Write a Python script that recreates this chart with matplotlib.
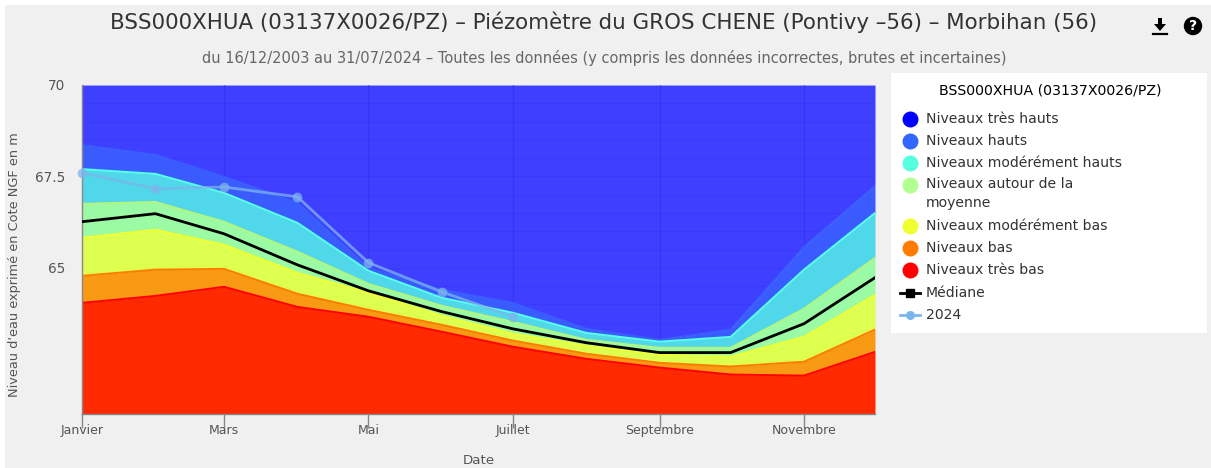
import matplotlib
matplotlib.use("Agg")
import matplotlib.pyplot as plt
from matplotlib.patches import Rectangle, Circle, Polygon

W, H = 1211, 468

# position of the first day of each month, in days since 1 January
month_pos = [0, 31, 60, 91, 121, 152, 182, 213, 244, 274, 305, 335]
tick_pos = [0, 60, 121, 182, 244, 305]
tick_labels = ["Janvier", "Mars", "Mai", "Juillet", "Septembre", "Novembre"]
y_ticks = [65, 67.5, 70]
y_tick_labels = ["65", "67.5", "70"]

# upper limit of each band
hauts = [68.36, 68.09, 67.49, 66.78, 65.00, 64.40, 64.04, 63.33, 63.03, 63.31, 65.57, 67.24]
mod_hauts = [67.70, 67.57, 67.05, 66.23, 64.92, 64.18, 63.77, 63.22, 62.98, 63.11, 64.95, 66.50]
moyenne = [66.75, 66.80, 66.26, 65.44, 64.56, 63.96, 63.52, 63.03, 62.81, 62.81, 63.88, 65.27]
mod_bas = [65.82, 66.04, 65.63, 64.86, 64.32, 63.69, 63.20, 62.87, 62.62, 62.57, 63.11, 64.26]
bas = [64.78, 64.95, 64.97, 64.29, 63.85, 63.44, 63.01, 62.65, 62.40, 62.30, 62.43, 63.31]
tres_bas = [64.04, 64.23, 64.48, 63.93, 63.66, 63.25, 62.84, 62.51, 62.27, 62.08, 62.05, 62.70]
mediane = [66.26, 66.48, 65.93, 65.08, 64.37, 63.80, 63.33, 62.95, 62.68, 62.68, 63.47, 64.73]
annee_2024 = [67.60, 67.16, 67.21, 66.94, 65.14, 64.34, 63.66]

y_min, y_max = 61, 70
bg = "#f0f0f0"
txt = "#555555"

fig = plt.figure(figsize=(W / 100, H / 100), dpi=100, facecolor="white")
plt.rcParams["font.family"] = "DejaVu Sans"

# grey panel, the screenshot has a thin white margin
fig.patches.append(Rectangle((5 / W, 0), 1 - 5 / W, 1 - 5 / H, transform=fig.transFigure,
                             facecolor=bg, edgecolor="none", zorder=-5))

ax = fig.add_axes([82 / W, 1 - 414 / H, (875 - 82) / W, (414 - 85) / H])
ax.set_facecolor("white")

# bands from top to bottom: upper limit, lower limit, fill, edge
top_line = [y_max] * len(month_pos)
ax.fill_between(month_pos, hauts, top_line, color="#3f3fff", lw=0, zorder=1)

for v in [61.5 + 0.5 * i for i in range(17)]:
    ax.axhline(v, color="#3030e8", lw=0.8, alpha=0.3, zorder=1.5)
for p in tick_pos:
    ax.axvline(p, color="#3030e0", lw=1, alpha=0.55, zorder=1.5)

bands = [
    (hauts, mod_hauts, "#3a5cff", "#3a5cff"),
    (mod_hauts, moyenne, "#50d8ea", "#55ffe6"),
    (moyenne, mod_bas, "#9bfaa4", "#b4f57e"),
    (mod_bas, bas, "#dcff50", "#f0ff30"),
    (bas, tres_bas, "#f99a14", "#ff7c00"),
    (tres_bas, [y_min] * len(month_pos), "#ff2a00", "#ff0000"),
]
for up, low, fill, edge in bands:
    ax.fill_between(month_pos, low, up, color=fill, lw=0, zorder=2)
    ax.plot(month_pos, up, color=edge, lw=1.4, zorder=2.5)

ax.plot(month_pos, mediane, color="black", lw=2, zorder=3)
ax.plot(month_pos[:len(annee_2024)], annee_2024, color="#7cb5ec", lw=2, alpha=0.75,
        marker="o", ms=7, mew=0, zorder=4, clip_on=False)

ax.set_xlim(0, 335)
ax.set_ylim(y_min, y_max)
ax.set_xticks(tick_pos, tick_labels, fontsize=9, color=txt)
ax.set_yticks(y_ticks, y_tick_labels, fontsize=9.8, color=txt)
ax.tick_params(axis="x", length=10, width=1, color="#888888", pad=-3)
ax.tick_params(axis="y", length=0, pad=12)
for s in ["top", "right"]:
    ax.spines[s].set_visible(False)
for s in ["left", "bottom"]:
    ax.spines[s].set_color("#888888")
    ax.spines[s].set_linewidth(1)

fig.text(479 / W, 1 - 460 / H, "Date", ha="center", va="center", fontsize=9.6, color=txt)
fig.text(15 / W, 1 - 265 / H, "Niveau d'eau exprimé en Cote NGF en m", rotation=90,
         ha="center", va="center", fontsize=9.3, color=txt)
fig.text(604 / W, 1 - 22 / H, "BSS000XHUA (03137X0026/PZ) – Piézomètre du GROS CHENE (Pontivy –56) – Morbihan (56)",
         ha="center", va="center", fontsize=15.4, color="#333333")
fig.text(604 / W, 1 - 58 / H, "du 16/12/2003 au 31/07/2024 – Toutes les données (y compris les données incorrectes, brutes et incertaines)",
         ha="center", va="center", fontsize=10.5, color="#666666")

# overlay in pixel coordinates for the legend and the icons
ov = fig.add_axes([0, 0, 1, 1], facecolor="none")
ov.set_xlim(0, W)
ov.set_ylim(H, 0)
ov.axis("off")

# download and help icons
ov.add_patch(Polygon([(1158, 18), (1162, 18), (1162, 24), (1166, 24), (1160, 31), (1154, 24), (1158, 24)],
                     closed=True, facecolor="black", edgecolor="none"))
ov.plot([1153, 1167], [33.5, 33.5], color="black", lw=1.6)
ov.add_patch(Circle((1193, 26), 8.5, color="black"))
ov.text(1193, 26.5, "?", color="white", fontsize=10, fontweight="bold", ha="center", va="center")

# legend
ov.add_patch(Rectangle((891, 73), 316, 260, facecolor="white", edgecolor="none"))
ov.text(1050, 91, "BSS000XHUA (03137X0026/PZ)", ha="center", va="center", fontsize=10.2, color="black")

legend_names = ["Niveaux très hauts", "Niveaux hauts", "Niveaux modérément hauts",
                "Niveaux autour de la\nmoyenne", "Niveaux modérément bas", "Niveaux bas",
                "Niveaux très bas"]
legend_colors = ["#0000ff", "#3366ff", "#55ffe0", "#b0ff90", "#f0ff30", "#ff7c00", "#ff0000"]
legend_rows = [119, 141, 163, 185, 226, 248, 270]
for name, col, row in zip(legend_names, legend_colors, legend_rows):
    ov.plot(909.5, row, "o", color=col, ms=11.5, mew=0)
    if "\n" in name:
        ov.text(926, row - 8, name, va="top", fontsize=10.1, color="#333333", linespacing=1.45)
    else:
        ov.text(926, row, name, va="center", fontsize=10.1, color="#333333")

ov.plot([900, 920], [293, 293], color="black", lw=2)
ov.plot(910, 293, "s", color="black", ms=6)
ov.text(926, 293, "Médiane", va="center", fontsize=10.1, color="#333333")
ov.plot([900, 920], [315, 315], color="#7cb5ec", lw=2)
ov.plot(910, 315, "o", color="#7cb5ec", ms=6.5, mew=0)
ov.text(926, 315, "2024", va="center", fontsize=10.1, color="#333333")

fig.savefig("out.png", dpi=100, facecolor=fig.get_facecolor())
